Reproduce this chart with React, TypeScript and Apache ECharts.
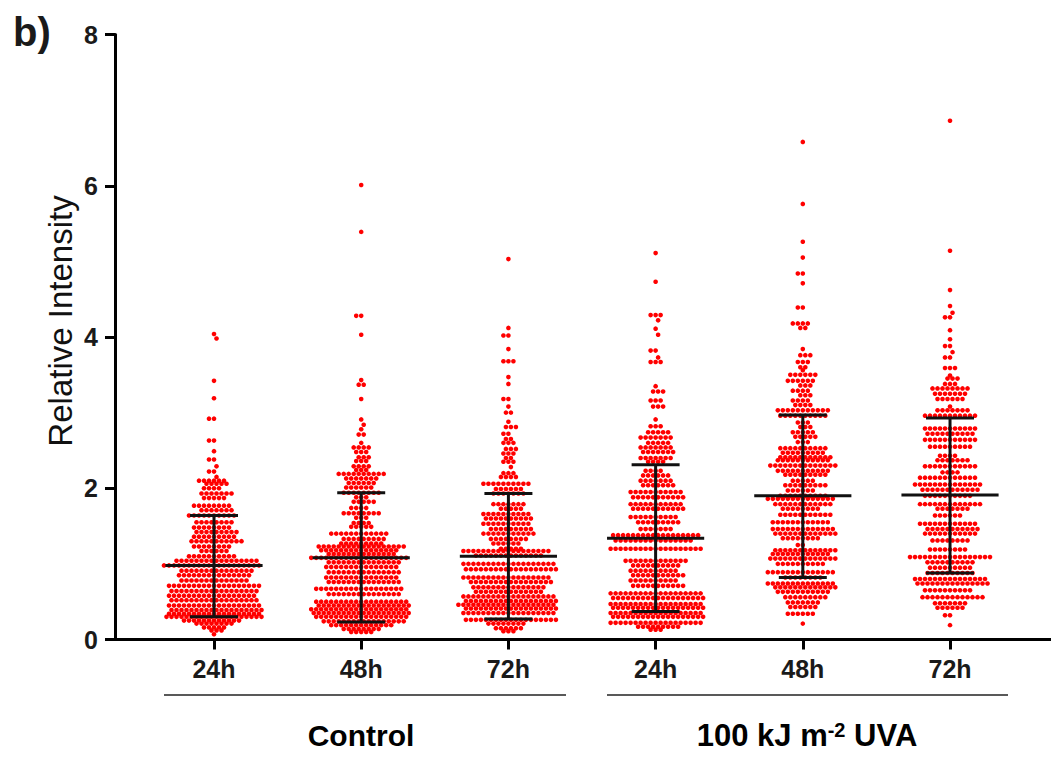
import React, { useEffect, useRef } from "react";
import * as echarts from "echarts";

const timeLabels = ["24h", "48h", "72h", "24h", "48h", "72h"];
const yTicks = [0, 2, 4, 6, 8];

// Each swarm: [relative intensity, number of dots in that row]
const control24: number[][] = [
  [4.04,1],[3.98,1],[3.42,1],[3.19,1],[2.92,2],[2.63,2],[2.49,1],[2.38,2],[2.29,1],[2.22,2],[2.15,1],
  [2.1,6],[2.06,5],[2.0,4],[1.93,7],[1.87,5],[1.77,8],[1.71,7],[1.64,10],[1.55,8],[1.48,8],[1.42,9],
  [1.36,9],[1.3,11],[1.23,8],[1.17,6],[1.1,10],[1.04,17],[0.98,20],[0.91,15],[0.85,15],[0.78,14],
  [0.71,19],[0.64,18],[0.58,18],[0.52,18],[0.45,19],[0.39,19],[0.34,19],[0.3,20],[0.25,12],[0.21,8],
  [0.16,5],[0.12,3],[0.07,1],
];
const control48: number[][] = [
  [6.01,1],[5.39,1],[4.28,2],[4.03,1],[3.43,1],[3.37,2],[3.18,1],[2.91,1],[2.84,1],[2.78,1],[2.71,2],
  [2.6,1],[2.54,4],[2.48,3],[2.41,3],[2.36,3],[2.29,4],[2.24,3],[2.19,10],[2.13,7],[2.07,6],[2.01,6],
  [1.94,8],[1.88,3],[1.82,5],[1.74,4],[1.67,8],[1.61,3],[1.54,4],[1.49,5],[1.4,12],[1.33,9],[1.27,9],
  [1.23,18],[1.18,16],[1.13,14],[1.08,20],[1.02,15],[0.96,15],[0.89,15],[0.82,15],[0.76,15],[0.67,18],
  [0.6,15],[0.5,19],[0.45,19],[0.4,20],[0.35,20],[0.3,19],[0.24,17],[0.19,13],[0.14,8],[0.1,5],
];
const control72: number[][] = [
  [5.03,1],[4.12,1],[4.02,2],[3.84,1],[3.68,3],[3.47,1],[3.38,1],[3.18,2],[3.08,1],[3.0,2],[2.88,1],
  [2.81,3],[2.72,2],[2.65,2],[2.6,3],[2.52,3],[2.46,3],[2.4,2],[2.35,3],[2.28,1],[2.2,3],[2.15,4],
  [2.06,10],[1.99,6],[1.93,7],[1.79,7],[1.73,5],[1.66,10],[1.6,10],[1.53,10],[1.46,9],[1.4,11],
  [1.33,8],[1.27,6],[1.2,5],[1.17,18],[1.11,14],[1.0,19],[0.93,19],[0.82,18],[0.76,17],[0.69,15],
  [0.63,14],[0.57,19],[0.51,19],[0.46,20],[0.41,19],[0.35,19],[0.26,19],[0.21,8],[0.15,6],[0.11,3],
];
const uva24: number[][] = [
  [5.11,1],[4.73,1],[4.29,3],[4.22,1],[4.11,1],[4.03,1],[3.82,2],[3.73,1],[3.67,3],[3.35,1],[3.28,3],
  [3.16,3],[3.08,3],[2.91,1],[2.82,3],[2.74,5],[2.67,7],[2.6,5],[2.54,7],[2.48,7],[2.4,7],[2.35,4],
  [2.23,4],[2.17,6],[2.1,7],[2.04,7],[1.95,11],[1.88,11],[1.79,11],[1.73,11],[1.62,10],[1.55,9],
  [1.46,7],[1.38,18],[1.31,16],[1.2,19],[1.04,13],[0.98,10],[0.91,10],[0.85,11],[0.78,10],[0.71,11],
  [0.61,19],[0.55,19],[0.47,19],[0.42,19],[0.35,19],[0.3,19],[0.22,19],[0.17,9],[0.13,3],
];
const uva48: number[][] = [
  [6.58,1],[5.76,1],[5.26,1],[5.05,1],[4.84,2],[4.71,1],[4.39,2],[4.18,4],[4.12,2],[3.84,1],[3.76,3],
  [3.67,3],[3.6,2],[3.56,1],[3.5,6],[3.42,6],[3.36,3],[3.29,4],[3.23,3],[3.16,4],[3.1,4],[3.03,11],
  [2.96,10],[2.87,3],[2.81,3],[2.74,5],[2.68,5],[2.61,3],[2.53,10],[2.47,9],[2.41,11],[2.37,11],
  [2.3,14],[2.23,11],[2.18,9],[2.1,5],[2.04,9],[1.97,6],[1.9,10],[1.86,14],[1.79,12],[1.73,8],
  [1.65,11],[1.55,12],[1.46,13],[1.4,13],[1.34,8],[1.25,2],[1.18,13],[1.13,12],[1.07,14],[1.0,10],
  [0.89,14],[0.82,8],[0.74,14],[0.69,13],[0.63,11],[0.56,9],[0.49,7],[0.43,6],[0.34,6],[0.21,1],
];
const uva72: number[][] = [
  [6.86,1],[5.14,1],[4.62,1],[4.41,1],[4.32,1],[4.26,2],[4.09,1],[3.97,1],[3.88,2],[3.8,1],[3.73,2],
  [3.59,3],[3.49,1],[3.45,3],[3.38,3],[3.32,8],[3.25,7],[3.18,6],[3.08,1],[3.03,7],[2.96,11],[2.79,11],
  [2.72,10],[2.64,11],[2.55,9],[2.43,4],[2.37,7],[2.29,11],[2.21,4],[2.14,12],[2.05,14],[1.98,12],
  [1.9,10],[1.79,13],[1.73,7],[1.64,6],[1.53,12],[1.46,11],[1.4,11],[1.31,8],[1.19,8],[1.09,17],
  [1.02,10],[0.95,9],[0.88,10],[0.8,15],[0.74,15],[0.65,10],[0.56,13],[0.48,7],[0.42,6],[0.32,2],[0.19,1],
];
const swarms = [control24, control48, control72, uva24, uva48, uva72];

const means = [0.98, 1.08, 1.1, 1.34, 1.9, 1.91];
const upperSd = [1.64, 1.94, 1.93, 2.31, 2.97, 2.93];
const lowerSd = [0.3, 0.23, 0.27, 0.37, 0.82, 0.88];

const PX_PER_GROUP = 147.2;
const DOT_STEP = 5.0 / PX_PER_GROUP;
const CLOSE_ROWS = 0.09;

// Places a row's dots side by side; a row close under the last one is staggered by half a step,
// as a swarm does, so dots do not stack straight above each other.
function swarmPoints(rows: number[][], groupIndex: number) {
  const points: number[][] = [];
  let prevValue = Infinity;
  let prevShift = 0;
  rows.forEach(([value, count]) => {
    const close = prevValue - value < CLOSE_ROWS;
    const shift = close && prevShift === 0 ? 0.5 : 0;
    const centred = count % 2 === 1 ? 0 : 0.5;
    for (let i = 0; i < count; i++) {
      const slot = i - (count - 1) / 2 + (centred === 0 ? shift : shift - 0.5);
      points.push([groupIndex + slot * DOT_STEP, value]);
    }
    prevValue = value;
    prevShift = shift;
  });
  return points;
}

export default function App() {
  const ref = useRef<HTMLDivElement>(null);
  useEffect(() => {
    const chart = echarts.init(ref.current!, null, { renderer: "svg" });
    const font = "'Liberation Sans', Arial, sans-serif";
    const ink = "#000000";
    chart.setOption({
      animation: false,
      backgroundColor: "#ffffff",
      grid: { left: 115, right: 0, top: 34.5, bottom: 118.5 },
      xAxis: {
        type: "value",
        min: -0.6726,
        max: 5.686,
        splitLine: { show: false },
        axisLine: { show: true, onZero: false, lineStyle: { color: ink, width: 3 } },
        axisTick: { show: true, length: 10, lineStyle: { color: ink, width: 3 }, customValues: [0, 1, 2, 3, 4, 5] },
        axisLabel: {
          customValues: [0, 1, 2, 3, 4, 5],
          formatter: (v: number) => timeLabels[Math.round(v)],
          fontFamily: font, fontWeight: "bold", fontSize: 25, color: "#1a1a1a", margin: 17,
        },
      },
      yAxis: {
        type: "value",
        min: yTicks[0],
        max: yTicks[yTicks.length - 1],
        interval: 2,
        splitLine: { show: false },
        axisLine: { show: true, onZero: false, lineStyle: { color: ink, width: 3 } },
        axisTick: { show: true, length: 10, lineStyle: { color: ink, width: 3 } },
        axisLabel: { fontFamily: font, fontWeight: "bold", fontSize: 25, color: "#1a1a1a", margin: 17 },
      },
      series: [
        ...swarms.map((rows, g) => ({
          type: "scatter",
          data: swarmPoints(rows, g),
          symbol: "circle",
          symbolSize: 4.6,
          itemStyle: { color: "#ff0000", opacity: 1 },
          clip: false,
          z: 2,
        })),
        {
          type: "custom",
          z: 3,
          clip: false,
          data: means.map((m, i) => [i, m, upperSd[i], lowerSd[i]]),
          encode: { x: 0, y: 1 },
          renderItem: (_: any, api: any) => {
            const i = api.value(0);
            const seg = (x1: number, y1: number, x2: number, y2: number, w: number) => {
              const a = api.coord([x1, y1]);
              const b = api.coord([x2, y2]);
              return {
                type: "line",
                shape: { x1: a[0], y1: a[1], x2: b[0], y2: b[1] },
                style: { stroke: "#111111", lineWidth: w },
              };
            };
            return {
              type: "group",
              children: [
                seg(i, api.value(2), i, api.value(3), 3),
                seg(i - 0.33, api.value(1), i + 0.33, api.value(1), 3),
                seg(i - 0.163, api.value(2), i + 0.163, api.value(2), 3),
                seg(i - 0.163, api.value(3), i + 0.163, api.value(3), 3),
              ],
            };
          },
        },
      ],
      graphic: [
        { type: "text", x: 13, y: 12, style: { text: "b)", font: `bold 40px ${font}`, fill: "#1a1a1a" } },
        {
          type: "text", x: 60, y: 321, rotation: Math.PI / 2,
          style: { text: "Relative Intensity", font: `33px ${font}`, fill: "#111111", align: "center", verticalAlign: "middle" },
        },
        { type: "line", shape: { x1: 164, y1: 695, x2: 566, y2: 695 }, style: { stroke: "#222222", lineWidth: 1.5 } },
        { type: "line", shape: { x1: 607, y1: 695, x2: 1008, y2: 695 }, style: { stroke: "#222222", lineWidth: 1.5 } },
        {
          type: "text", x: 361, y: 735,
          style: { text: "Control", font: `bold 30px ${font}`, fill: "#000000", align: "center", verticalAlign: "middle" },
        },
        {
          type: "text", x: 807, y: 735,
          style: {
            text: "{a|100 kJ m}{b|-2}{a| UVA}",
            align: "center",
            verticalAlign: "middle",
            rich: {
              a: { font: `bold 31px ${font}`, fill: "#000000", verticalAlign: "bottom" },
              b: { font: `bold 20px ${font}`, fill: "#000000", verticalAlign: "top" },
            },
          },
        },
      ],
    });
    return () => chart.dispose();
  }, []);
  return <div ref={ref} style={{ position: "fixed", left: 0, top: 0, width: 1051, height: 758 }} />;
}
